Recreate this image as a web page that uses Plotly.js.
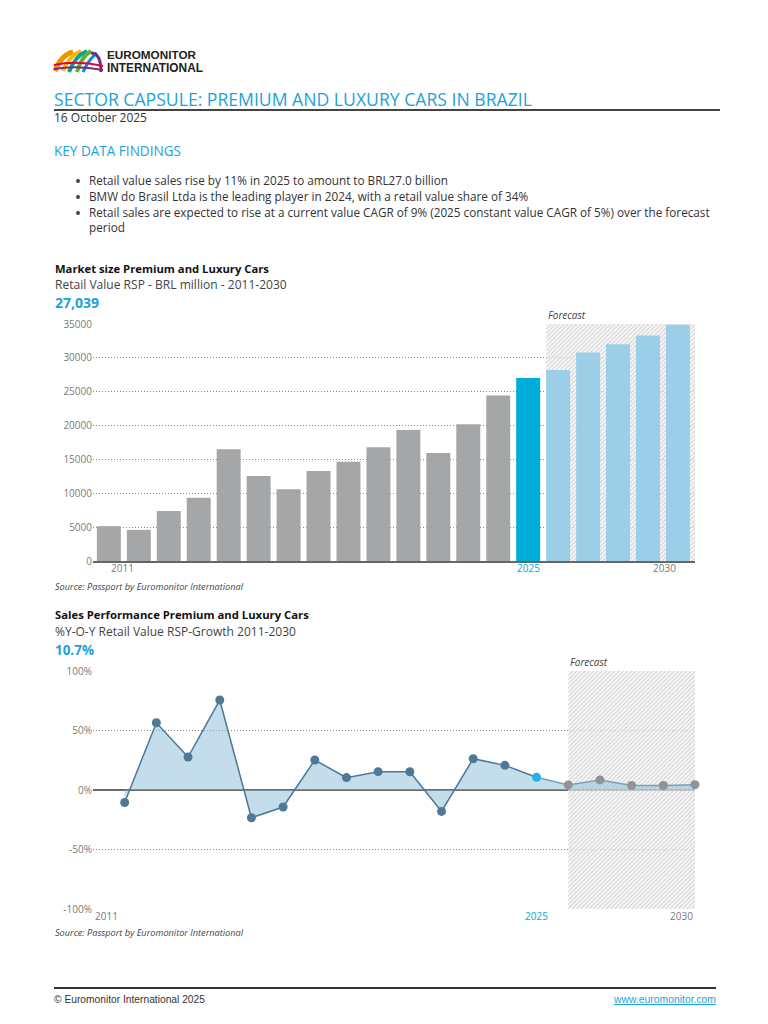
<!DOCTYPE html>
<html>
<head>
<meta charset="utf-8">
<script src="https://cdn.plot.ly/plotly-3.0.1.min.js"></script>
<style>
  html,body{margin:0;padding:0;background:#fff;}
  #page{position:relative;width:768px;height:1024px;overflow:hidden;background:#fff;font-family:"Open Sans",sans-serif;color:#333;}
  .t{position:absolute;white-space:nowrap;line-height:16px;height:16px;}
  .blue{color:#1ba3da;}
  .b{font-weight:bold;color:#111;}
  .g{color:#444;}
  .it{font-style:italic;color:#444;}
  .rule{position:absolute;background:#444;}
  .dot{position:absolute;width:4px;height:4px;border-radius:2px;background:#444;}
  .chart{position:absolute;left:0;width:768px;}
</style>
</head>
<body>
<div id="page">
  <svg style="position:absolute;left:53px;top:47px" width="52" height="28" viewBox="0 0 52 28">
    <path d="M2 24 Q8 8 20 5" stroke="#f39200" stroke-width="5" fill="none"/>
    <path d="M10 24 Q16 9 28 4" stroke="#fbb900" stroke-width="4" fill="none"/>
    <path d="M16 25 Q22 9 34 4" stroke="#00a19a" stroke-width="4" fill="none"/>
    <path d="M24 25 Q28 10 38 4" stroke="#5cb531" stroke-width="4" fill="none"/>
    <path d="M30 25 Q36 12 44 6" stroke="#0a8fc7" stroke-width="3" fill="none"/>
    <path d="M38 6 Q48 6 48 25" stroke="#7b2a83" stroke-width="3" fill="none"/>
    <path d="M1 18 Q24 13 50 19" stroke="#e4003a" stroke-width="2" fill="none"/>
    <path d="M1 22 Q24 18 50 23" stroke="#7b2a83" stroke-width="2" fill="none"/>
  </svg>
  <div class="t" style="left:107px;top:47px;font-family:'Liberation Sans',sans-serif;font-weight:bold;color:#222" data-w="89" data-fs="12.5">EUROMONITOR</div>
  <div class="t" style="left:107px;top:60px;font-family:'Liberation Sans',sans-serif;font-weight:bold;color:#222" data-w="96" data-fs="12.5">INTERNATIONAL</div>

  <div class="t blue" style="left:54px;top:91px;line-height:17px;height:17px" data-w="478" data-fs="18">SECTOR CAPSULE: PREMIUM AND LUXURY CARS IN BRAZIL</div>
  <div class="rule" style="left:54px;top:109px;width:666px;height:1.5px"></div>
  <div class="t" style="left:54px;top:111px;line-height:14px;height:14px" data-w="93" data-fs="12">16 October 2025</div>

  <div class="t blue" style="left:54px;top:143px" data-w="127" data-fs="14">KEY DATA FINDINGS</div>

  <div class="dot" style="left:76px;top:179px"></div>
  <div class="t" style="left:89px;top:172px" data-w="359" data-fs="12">Retail value sales rise by 11% in 2025 to amount to BRL27.0 billion</div>
  <div class="dot" style="left:76px;top:195px"></div>
  <div class="t" style="left:89px;top:188px" data-w="439" data-fs="12">BMW do Brasil Ltda is the leading player in 2024, with a retail value share of 34%</div>
  <div class="dot" style="left:76px;top:211px"></div>
  <div class="t" style="left:89px;top:204px" data-w="621" data-fs="12">Retail sales are expected to rise at a current value CAGR of 9% (2025 constant value CAGR of 5%) over the forecast</div>
  <div class="t" style="left:89px;top:219px" data-w="36" data-fs="12">period</div>

  <div class="t b" style="left:55px;top:261px" data-w="214" data-fs="12">Market size Premium and Luxury Cars</div>
  <div class="t g" style="left:55px;top:277px" data-w="232" data-fs="12">Retail Value RSP - BRL million - 2011-2030</div>
  <div class="t blue" style="left:55px;top:295px;font-weight:bold" data-w="44" data-fs="13">27,039</div>

  <div id="bar" class="chart" style="top:300px;height:290px"></div>
  <div class="t it" style="left:55px;top:579px" data-w="188" data-fs="9">Source: Passport by Euromonitor International</div>

  <div class="t b" style="left:55px;top:607px" data-w="254" data-fs="12">Sales Performance Premium and Luxury Cars</div>
  <div class="t g" style="left:55px;top:624px" data-w="241" data-fs="12">%Y-O-Y Retail Value RSP-Growth 2011-2030</div>
  <div class="t blue" style="left:55px;top:642px;font-weight:bold" data-w="39" data-fs="13">10.7%</div>

  <div id="line" class="chart" style="top:645px;height:300px"></div>
  <div class="t it" style="left:55px;top:925px" data-w="188" data-fs="9">Source: Passport by Euromonitor International</div>

  <div class="rule" style="left:54px;top:987px;width:662px;height:1.5px;background:#333"></div>
  <div class="t" style="left:54px;top:992px;font-family:'Liberation Sans',sans-serif" data-w="151" data-fs="11">© Euromonitor International 2025</div>
  <div class="t" style="right:52px;top:992px;font-family:'Liberation Sans',sans-serif;color:#1ba3da;text-decoration:underline" data-w="102" data-fs="11">www.euromonitor.com</div>
</div>
<script>
// ---------- data ----------
const years = [2011,2012,2013,2014,2015,2016,2017,2018,2019,2020,2021,2022,2023,2024,2025,2026,2027,2028,2029,2030];
const marketSize = [5150,4600,7400,9350,16500,12550,10600,13300,14670,16800,19350,15950,20200,24430,27039,28200,30800,32000,33300,34900];
const growthYears = [2012,2013,2014,2015,2016,2017,2018,2019,2020,2021,2022,2023,2024,2025,2026,2027,2028,2029,2030];
const growth = [-10.5,56.5,27.7,75.6,-23.3,-14.3,25.2,10.4,15.4,15.3,-18.0,26.3,20.7,10.7,4.3,8.5,3.8,3.8,4.5];
const currentYear = 2025;
const forecastStart = 2026;
const barTickLabels = ['2011','2025','2030'];
const lineTickLabels = ['2011','2025','2030'];
const growthTickVals = [-100,-50,0,50,100];
const growthTickText = ['-100%','-50%','0%','50%','100%'];

// ---------- text fitting ----------
function fit(){
  document.querySelectorAll('[data-w]').forEach(el=>{
    const fs = parseFloat(el.dataset.fs);
    el.style.fontSize = fs+'px';
    const w = el.getBoundingClientRect().width;
    const target = parseFloat(el.dataset.w);
    if (w>0) el.style.fontSize = (fs*target/w).toFixed(2)+'px';
  });
}
fit();
if (document.fonts && document.fonts.ready) document.fonts.ready.then(fit);

// ---------- styles ----------
const tickFont = {family:'Open Sans, sans-serif', size:10, color:'#7a7a7a'};
const GREY='#a5a6a8', BLUE='#00acd9', LIGHT='#9ccfe7';
const hatch = {shape:'/', size:3, solidity:0.35, fgcolor:'#cfcfcf', bgcolor:'rgba(245,245,245,0.6)'};
const gridDash = '1px,2px';

// ---------- bar chart ----------
const barW = 0.8;
const barColors = years.map(y => y<currentYear?GREY:(y===currentYear?BLUE:LIGHT));
const yMaxBar = 35000;
const xMaxBar = 2030.57;
const hx0 = forecastStart - barW/2;
const barData = [
  {type:'bar', x:[(hx0+xMaxBar)/2], y:[yMaxBar], width:[xMaxBar-hx0],
   marker:{color:'rgba(0,0,0,0)', line:{width:0}, pattern:hatch}, hoverinfo:'skip', showlegend:false},
  {type:'bar', x:years, y:marketSize, width:barW, marker:{color:barColors, line:{width:0}}, showlegend:false}
];
const barLabelAnn = barTickLabels.map(t=>{
  const v = +t;
  return {x:v, y:0, xref:'x', yref:'paper', yanchor:'top', yshift:2, showarrow:false,
    xanchor: v===years[0]?'left':(v===years[years.length-1]?'right':'center'),
    text:t, font:Object.assign({}, tickFont, {color: v===currentYear?BLUE:'#7a7a7a'})};
});
const barLayout = {
  width:768, height:290, margin:{l:93, r:73, t:24, b:29},
  paper_bgcolor:'rgba(0,0,0,0)', plot_bgcolor:'rgba(0,0,0,0)', barmode:'overlay',
  xaxis:{range:[2010.47,xMaxBar], showticklabels:false, showgrid:false, zeroline:false,
         showline:true, linecolor:'#666', linewidth:2, ticks:''},
  yaxis:{range:[0,yMaxBar], dtick:5000, tickformat:'d', tickfont:tickFont, showgrid:true,
         gridcolor:'#8a8a8a', griddash:gridDash, gridwidth:1, zeroline:false, showline:false, ticks:''},
  annotations: barLabelAnn.concat([{x:hx0, y:1, xref:'x', yref:'paper', xanchor:'left', yanchor:'bottom', yshift:0,
     showarrow:false, text:'<i>Forecast</i>', font:{family:'Open Sans, sans-serif', size:10, color:'#444'}}])
};
Plotly.newPlot('bar', barData, barLayout, {displayModeBar:false, staticPlot:true});

// ---------- line chart ----------
const idx = growthYears.indexOf(currentYear);
const histX = growthYears.slice(0, idx+1), histY = growth.slice(0, idx+1);
const fcX = growthYears.slice(idx), fcY = growth.slice(idx);
const ptColors = growthYears.map(y => y<currentYear?'#4f7a95':(y===currentYear?'#22b3e2':'#8e9499'));
const lineData = [
  {type:'scatter', mode:'none', x:[forecastStart,2030,2030,forecastStart,forecastStart], y:[-100,-100,100,100,-100],
   fill:'toself', fillcolor:'rgba(0,0,0,0)', fillpattern:hatch, hoverinfo:'skip', showlegend:false},
  {type:'scatter', mode:'lines', x:histX, y:histY, fill:'tozeroy', fillcolor:'rgba(135,187,213,0.5)',
   line:{color:'#4b7896', width:1.5}, showlegend:false},
  {type:'scatter', mode:'lines', x:fcX, y:fcY, fill:'tozeroy', fillcolor:'rgba(135,187,213,0.5)',
   line:{color:'#7f9fb0', width:1.5}, showlegend:false},
  {type:'scatter', mode:'markers', x:growthYears, y:growth, marker:{color:ptColors, size:9}, cliponaxis:false, showlegend:false}
];
const lineLabelAnn = lineTickLabels.map(t=>{
  const v = +t;
  return {x:v, y:0, xref:'x', yref:'paper', yanchor:'top', yshift:2, showarrow:false,
    xanchor: v===2011?'left':(v===2030?'right':'center'),
    text:t, font:Object.assign({}, tickFont, {color: v===currentYear?BLUE:'#7a7a7a'})};
});
const lineLayout = {
  width:768, height:300, margin:{l:93, r:73, t:26, b:36},
  paper_bgcolor:'rgba(0,0,0,0)', plot_bgcolor:'rgba(0,0,0,0)',
  xaxis:{range:[2011,2030], showticklabels:false, showgrid:false, zeroline:false, showline:false, ticks:''},
  yaxis:{range:[-100,100], tickmode:'array', tickvals:growthTickVals, ticktext:growthTickText, tickfont:tickFont, showgrid:true,
         gridcolor:'#8a8a8a', griddash:gridDash, gridwidth:1, zeroline:true, zerolinecolor:'#6a6a6a', zerolinewidth:1.5,
         showline:false, ticks:''},
  annotations: lineLabelAnn.concat([{x:forecastStart, y:1, xref:'x', yref:'paper', xanchor:'left', yanchor:'bottom', yshift:0,
     showarrow:false, text:'<i>Forecast</i>', font:{family:'Open Sans, sans-serif', size:10, color:'#444'}}])
};
Plotly.newPlot('line', lineData, lineLayout, {displayModeBar:false, staticPlot:true});
</script>
</body>
</html>
